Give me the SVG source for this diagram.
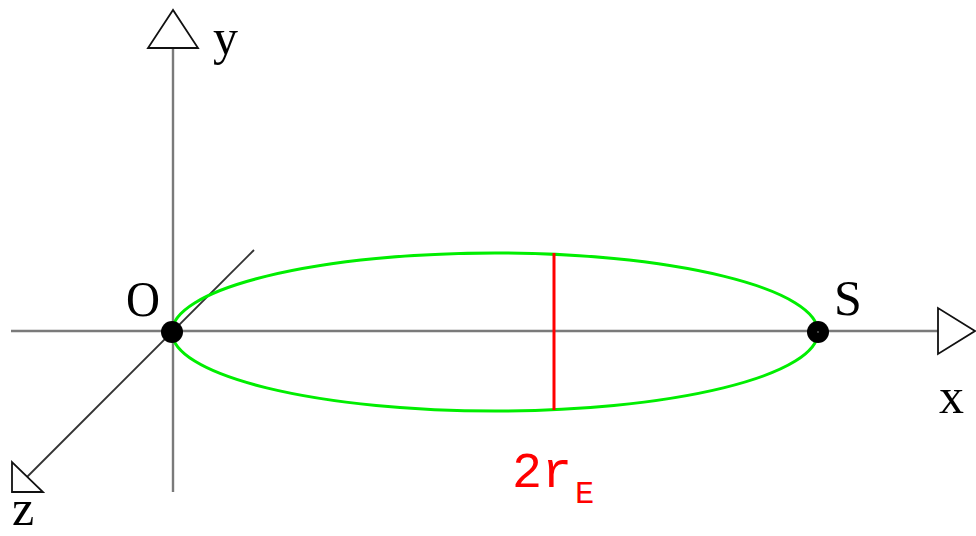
<svg xmlns="http://www.w3.org/2000/svg" width="976" height="536" viewBox="0 0 976 536">
<style>
.axis{stroke:#7a7a7a;stroke-width:2.4;fill:none}
.zaxis{stroke:#333;stroke-width:1.8;fill:none}
.head{fill:#fff;stroke:#111;stroke-width:1.8;stroke-linejoin:miter}
.lbl{font-family:"Liberation Serif",serif;font-size:50px;fill:#000}
.red{font-family:"Liberation Mono",monospace;fill:#f00}
</style>
<rect width="976" height="536" fill="#fff"/>
<g id="axes">
<line class="axis" x1="173" y1="12" x2="173" y2="492"/>
<line class="axis" x1="11" y1="331" x2="974" y2="331"/>
<line class="zaxis" x1="254" y1="250" x2="12" y2="492"/>
<polygon class="head" points="173,10 148,48 198,48"/>
<polygon class="head" points="975,331 938,308 938,354"/>
<polygon class="head" points="12,492 12,462 43,492"/>
</g>
<g id="ellipse">
<ellipse cx="495" cy="332" rx="323" ry="79" fill="none" stroke="#00ee00" stroke-width="3"/>
<line x1="554" y1="253" x2="554" y2="410" stroke="#f00" stroke-width="3"/>
</g>
<g id="O"><circle cx="172" cy="332" r="11" fill="#000"/><text class="lbl" x="126" y="316" textLength="34" lengthAdjust="spacingAndGlyphs">O</text></g>
<g id="S"><circle cx="818" cy="332" r="11" fill="#000"/><circle cx="818" cy="332" r="1" fill="#555"/><text class="lbl" x="834" y="315">S</text></g>
<g id="labels">
<text class="lbl" x="213" y="54">y</text>
<text class="lbl" x="939" y="413">x</text>
<text class="lbl" x="12" y="525">z</text>
<text class="red" x="512" y="487" font-size="50">2r</text>
<text class="red" x="575" y="503" font-size="32">E</text>
</g>
</svg>
